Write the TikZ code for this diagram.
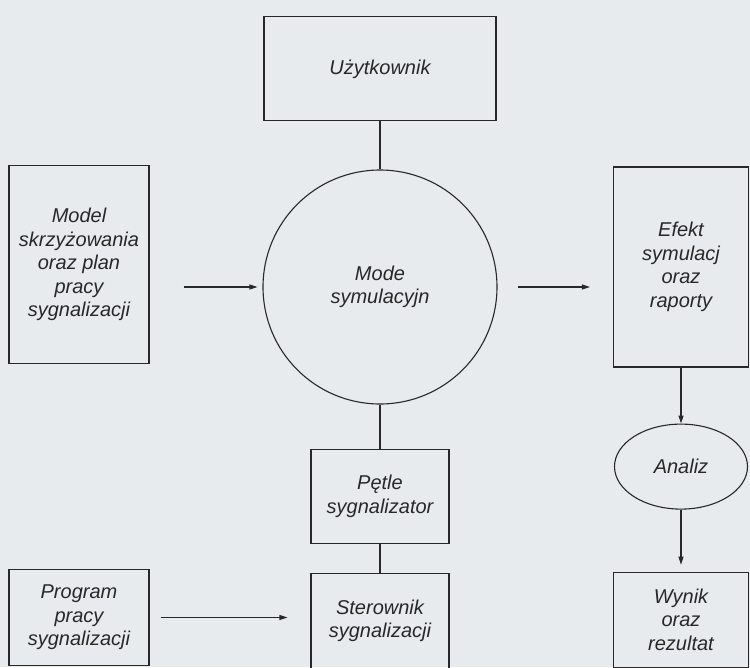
\documentclass[tikz,border=0pt]{standalone}
\usepackage{fontspec}
\setmainfont{Liberation Sans}
\usetikzlibrary{positioning,shapes.geometric,arrows.meta}
\definecolor{paper}{RGB}{231,235,237}
\definecolor{ink}{RGB}{40,40,40}

\begin{document}
\begin{tikzpicture}[x=1pt, y=-1pt, line width=1.1pt, color=ink,
        >={Triangle[length=8pt,width=5pt]},
        label/.style = {align=center, text=ink, font=\fontsize{20}{23.5}\selectfont\itshape},
        block/.style = {draw, rectangle, label, inner sep=2pt},
        unit/.style = {draw, circle, label, inner sep=0pt, minimum size=234pt},
        task/.style = {draw, ellipse, label, inner sep=0pt, minimum width=133pt, minimum height=85pt}]
        \fill[paper] (0,0) rectangle (750,667);
        \useasboundingbox (0,0) rectangle (750,667);
        \node[unit] (sim) at (380,287) {Mode\\symulacyjn};
        \node[block, minimum width=232pt, minimum height=104pt] (user) [above=48pt of sim] {Użytkownik};
        \node[block, minimum width=138pt, minimum height=94pt] (petle) [below=44pt of sim] {Pętle\\sygnalizator};
        \node[block, minimum width=138pt, minimum height=95pt] (ster) [below=29pt of petle] {Sterownik\\sygnalizacji};
        \node[block, minimum width=140pt, minimum height=198pt] (model) at (79,264.5) {Model\\skrzyżowania\\oraz plan\\pracy\\sygnalizacji};
        \node[block, minimum width=140pt, minimum height=96pt] (prog) at (79,617.5) {Program\\pracy\\sygnalizacji};
        \node[block, minimum width=135pt, minimum height=200pt] (efekt) at (681,267) {Efekt\\symulacj\\oraz\\raporty};
        \node[task] (analiz) [below=56pt of efekt] {Analiz};
        \node[block, minimum width=135pt, minimum height=95pt] (wynik) [below=62pt of analiz] {Wynik\\oraz\\rezultat};
        \draw (user) -- (sim);
        \draw (sim) -- (petle);
        \draw (petle) -- (ster);
        \draw[->, shorten <=34pt, shorten >=5pt] (model.east |- sim.west) -- (sim.west);
        \draw[->, shorten <=20pt, shorten >=23pt] (sim.east) -- (sim.east -| efekt.west);
        \draw[->] (efekt) -- (analiz);
        \draw[->, shorten >=7pt] (analiz) -- (wynik);
        \draw[->, shorten <=11pt, shorten >=23pt] (prog.east) -- (prog.east -| ster.west);
    \end{tikzpicture}
\end{document}
